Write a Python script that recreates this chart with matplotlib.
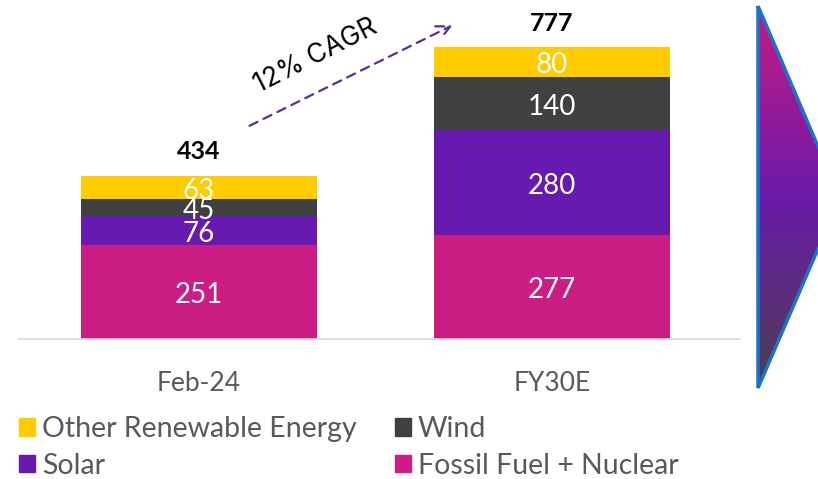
import numpy as np
import matplotlib
matplotlib.use("Agg")
import matplotlib.pyplot as plt
from matplotlib.patches import Polygon, Patch
from matplotlib.colors import LinearSegmentedColormap

# Values
periods = ["Feb-24", "FY30E"]
fossil = [251, 277]
solar = [76, 280]
wind = [45, 140]
other = [63, 80]
totals = [434, 777]
series = ["Fossil Fuel + Nuclear", "Solar", "Wind", "Other Renewable Energy"]
colors = ["#CB1D84", "#661AAF", "#404040", "#FFCC00"]
cagr_label = "12% CAGR"

plt.rcParams["font.family"] = ["Lato", "DejaVu Sans"]

W, H = 818, 479
fig = plt.figure(figsize=(W / 100, H / 100), dpi=100)

# main bar axes, placed so the baseline sits at y=339 px
ax = fig.add_axes([18 / W, (H - 339) / H, 722 / W, 339 / H])
x = np.arange(len(periods))
bottom = np.zeros(len(periods))
for vals, col in zip([fossil, solar, wind, other], colors):
    ax.bar(x, vals, width=0.669, bottom=bottom, color=col, edgecolor="none")
    for xi, v, b in zip(x, vals, bottom):
        ax.text(xi, b + v / 2 - 9, str(v), ha="center", va="center",
                color="white", fontsize=20)
    bottom += np.array(vals)

for xi, t in zip(x, totals):
    ax.text(xi, t + 33, str(t), ha="center", va="bottom",
            fontsize=18, fontweight="bold", color="black")

ax.set_xlim(-0.513, 1.533)
ax.set_ylim(0, 902)
ax.set_xticks(x)
ax.set_xticklabels(periods, fontsize=19, color="#595959")
ax.tick_params(axis="x", length=0, pad=23)
ax.set_yticks([])
for s in ["top", "left", "right"]:
    ax.spines[s].set_visible(False)
ax.spines["bottom"].set_color("#D9D9D9")
ax.spines["bottom"].set_linewidth(1.2)

# CAGR arrow
ax.annotate("", xy=(0.725, 838), xytext=(0.136, 564),
            arrowprops=dict(arrowstyle="->", color="#5B2C9A", lw=1.6,
                            linestyle=(0, (4, 3)), mutation_scale=24))
ax.text(0.33, 752, cagr_label, rotation=27, ha="center", va="center",
        fontsize=19, color="black", family=["Inter", "DejaVu Sans"])

# decorative gradient arrow on the right, in pixel coordinates
deco = fig.add_axes([0, 0, 1, 1])
deco.set_xlim(0, W)
deco.set_ylim(H, 0)
deco.axis("off")
pts = [(758, 6), (840, 198), (758, 388)]
cmap = LinearSegmentedColormap.from_list(
    "g", ["#C71C80", "#6A1AAA", "#4A4050"])
grad = np.linspace(0, 1, 256).reshape(-1, 1)
img = deco.imshow(grad, cmap=cmap, extent=(755, 850, 390, 4),
                  aspect="auto", zorder=1)
poly = Polygon(pts, closed=True, facecolor="none", edgecolor="#1A73C8",
               lw=2.5, zorder=2)
deco.add_patch(poly)
img.set_clip_path(poly)

# legend
handles = [Patch(color=colors[3]), Patch(color=colors[1]),
           Patch(color=colors[2]), Patch(color=colors[0])]
labels = [series[3], series[1], series[2], series[0]]
leg = fig.legend(handles, labels, ncol=2, loc="upper left",
                 bbox_to_anchor=(2 / W, 1 - 399 / H), frameon=False,
                 fontsize=20.5, handlelength=0.55, handleheight=0.55,
                 handletextpad=0.25, columnspacing=1.35, labelspacing=0.38,
                 borderaxespad=0.2)
for t in leg.get_texts():
    t.set_color("#595959")

fig.savefig("out.png", dpi=100)
